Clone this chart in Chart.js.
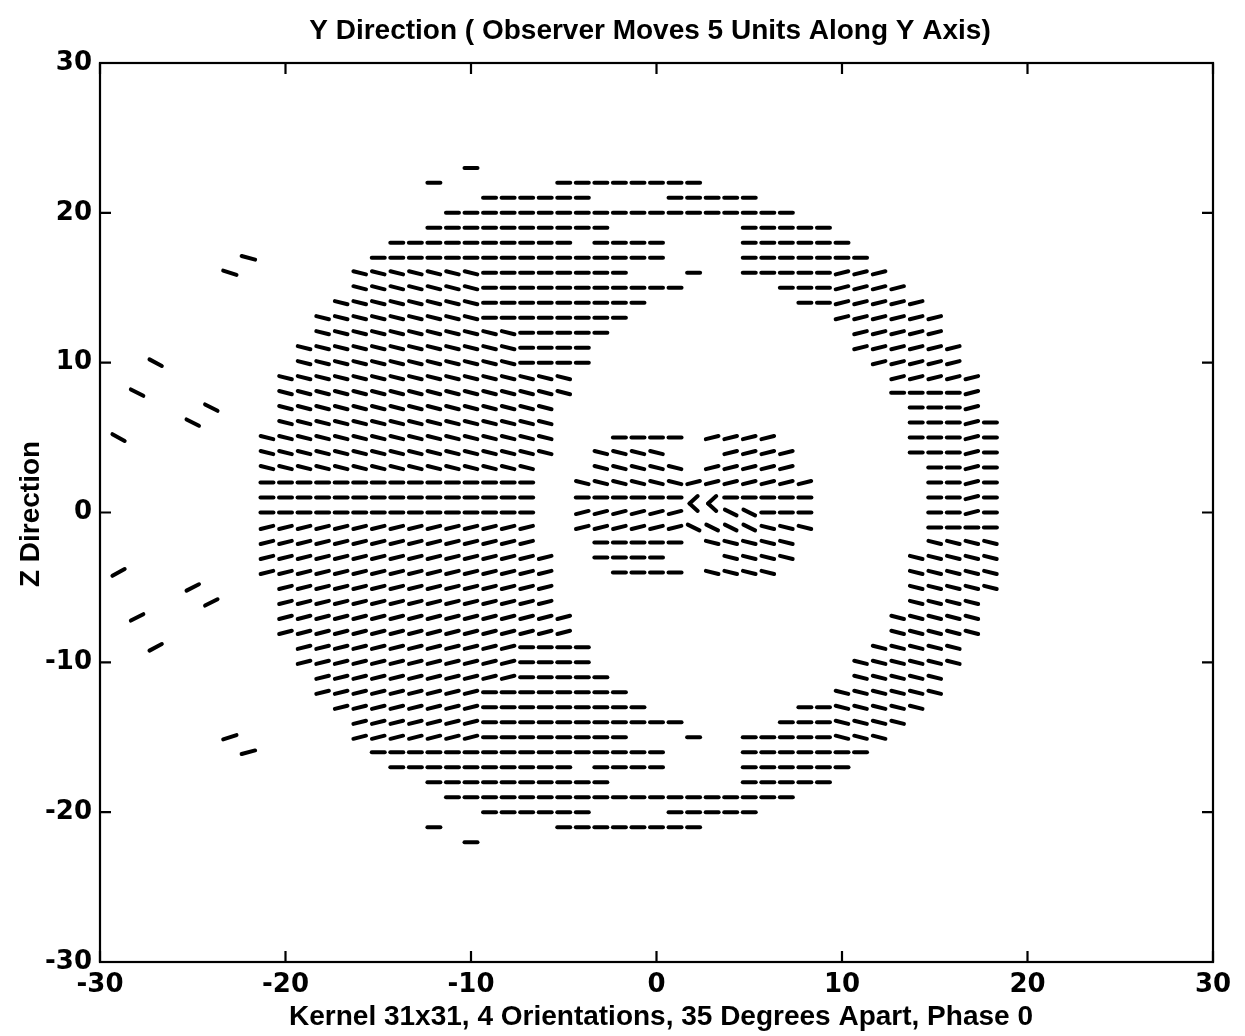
<!DOCTYPE html>
<html>
<head>
<meta charset="utf-8">
<script src="https://cdn.jsdelivr.net/npm/chart.js@4.4.1/dist/chart.umd.min.js"></script>
<style>
  html, body { margin: 0; padding: 0; background: #fff; }
  #wrap { width: 1245px; height: 1036px; }
</style>
</head>
<body>
<div id="wrap"><canvas id="chart" width="1245" height="1036"></canvas></div>
<script>
// texts
const titleText = 'Y Direction ( Observer Moves 5 Units Along Y Axis)';
const xLabel = 'Kernel 31x31, 4 Orientations, 35 Degrees Apart, Phase 0';
const yLabel = 'Z Direction';
const tickValues = [-30, -20, -10, 0, 10, 20, 30];

// rows of the orientation field: z of each row, then runs [x from, x to, tilt]
// tilt: '=' flat, 'd' falls to the right, 'u' rises to the right, 'D' steeper fall
const fieldZ = [23, 22, 21, 20, 19, 18, 17, 16, 15, 14, 13, 12, 11, 10, 9, 8, 7, 6, 5, 4, 3, 2, 1, 0,
  -1, -2, -3, -4, -5, -6, -7, -8, -9, -10, -11, -12, -13, -14, -15, -16, -17, -18, -19, -20, -21, -22];
const fieldRuns = [
  [[-10, -10, '=']],
  [[-12, -12, '='], [-5, 2, '=']],
  [[-9, -4, '='], [1, 5, '=']],
  [[-11, 7, '=']],
  [[-12, -3, '='], [5, 9, '=']],
  [[-14, -5, '='], [-3, 0, '='], [5, 10, '=']],
  [[-15, 0, '='], [5, 11, '=']],
  [[-16, -10, 'd'], [-9, -2, '='], [2, 2, '='], [5, 9, '='], [10, 12, 'u']],
  [[-16, -10, 'd'], [-9, 1, '='], [7, 9, '='], [10, 13, 'u']],
  [[-17, -10, 'd'], [-9, -1, '='], [8, 9, '='], [10, 14, 'u']],
  [[-18, -10, 'd'], [-9, -2, '='], [10, 15, 'u']],
  [[-18, -8, 'd'], [-7, -3, '='], [11, 15, 'u']],
  [[-19, -8, 'd'], [-7, -4, '='], [11, 16, 'u']],
  [[-19, -8, 'd'], [-7, -4, '='], [12, 16, 'u']],
  [[-20, -5, 'd'], [13, 17, 'u']],
  [[-20, -5, 'd'], [13, 16, '='], [17, 17, 'u']],
  [[-20, -6, 'd'], [14, 16, '='], [17, 17, 'u']],
  [[-20, -6, 'd'], [14, 16, '='], [17, 17, 'u'], [18, 18, '=']],
  [[-21, -6, 'd'], [-2, 1, '='], [3, 6, 'u'], [14, 16, '='], [17, 17, 'u'], [18, 18, '=']],
  [[-21, -6, 'd'], [-3, 0, 'd'], [4, 7, 'u'], [14, 16, '='], [17, 17, 'u'], [18, 18, '=']],
  [[-21, -7, 'd'], [-3, 1, 'd'], [3, 7, 'u'], [15, 16, '='], [17, 17, 'u'], [18, 18, '=']],
  [[-21, -7, '='], [-4, 1, 'd'], [2, 8, 'u'], [15, 16, '='], [17, 17, 'u'], [18, 18, '=']],
  [[-21, -7, '='], [-4, 1, '='], [4, 8, '='], [15, 16, '='], [17, 17, 'u'], [18, 18, '=']],
  [[-21, -7, '='], [-4, 1, 'u'], [4, 5, 'D'], [6, 8, '='], [15, 16, '='], [17, 17, 'u'], [18, 18, '=']],
  [[-21, -7, 'u'], [-4, 1, 'u'], [2, 5, 'D'], [6, 8, 'd'], [15, 18, '=']],
  [[-21, -7, 'u'], [-3, 1, '='], [3, 7, 'd'], [15, 18, 'd']],
  [[-21, -6, 'u'], [-3, 0, '='], [4, 7, 'd'], [14, 18, 'd']],
  [[-21, -6, 'u'], [-2, 1, '='], [3, 6, 'd'], [14, 18, 'd']],
  [[-20, -6, 'u'], [14, 18, 'd']],
  [[-20, -6, 'u'], [14, 17, 'd']],
  [[-20, -5, 'u'], [13, 17, 'd']],
  [[-20, -5, 'u'], [13, 17, 'd']],
  [[-19, -8, 'u'], [-7, -4, '='], [12, 16, 'd']],
  [[-19, -8, 'u'], [-7, -4, '='], [11, 16, 'd']],
  [[-18, -8, 'u'], [-7, -3, '='], [11, 15, 'd']],
  [[-18, -10, 'u'], [-9, -2, '='], [10, 15, 'd']],
  [[-17, -10, 'u'], [-9, -1, '='], [8, 9, '='], [10, 14, 'd']],
  [[-16, -10, 'u'], [-9, 1, '='], [7, 9, '='], [10, 13, 'd']],
  [[-16, -10, 'u'], [-9, -2, '='], [2, 2, '='], [5, 9, '='], [10, 12, 'd']],
  [[-15, 0, '='], [5, 11, '=']],
  [[-14, -5, '='], [-3, 0, '='], [5, 10, '=']],
  [[-12, -3, '='], [5, 9, '=']],
  [[-11, 7, '=']],
  [[-9, -4, '='], [1, 5, '=']],
  [[-12, -12, '='], [-5, 2, '=']],
  [[-10, -10, '=']]
];

// the lone dashes left of the ring
const outX = [-22, -23, -27, -28, -24, -25, -29, -29, -25, -24, -28, -27, -23, -22];
const outZ = [17, 16, 10, 8, 7, 6, 5, -4, -5, -6, -7, -9, -15, -16];
const outTilt = [15, 18, 28, 27, 27, 27, 29, -29, -27, -27, -27, -28, -18, -15];

// the two "<" marks in the middle of the inner blob (two strokes each)
const chevX = [2, 2, 3, 3];
const chevZ = [0.85, 0.35, 0.85, 0.35];
const chevTilt = [-42, 42, -42, 42];

const tiltDeg = { '=': 0, 'd': 14, 'u': -14, 'D': 26 };

const fieldPts = [];
fieldZ.forEach(function(z, i) {
  fieldRuns[i].forEach(function(run) {
    for (let x = run[0]; x <= run[1]; x++) {
      fieldPts.push({ x: x, y: z, r: tiltDeg[run[2]] });
    }
  });
});
const outPts = outX.map((x, i) => ({ x: x, y: outZ[i], r: outTilt[i] }));
const chevPts = chevX.map((x, i) => ({ x: x, y: chevZ[i], r: chevTilt[i] }));

const FONT = 'Liberation Sans, Arial, Helvetica, sans-serif';
const TICKFONT = 'DejaVu Sans, Liberation Sans, sans-serif';

function dashSet(data, rad) {
  return {
    data: data,
    showLine: false,
    pointStyle: 'line',
    pointRadius: rad,
    pointHoverRadius: rad,
    pointBorderWidth: 4,
    pointBorderColor: '#000',
    pointBackgroundColor: '#000',
    pointRotation: ctx => ctx.raw ? ctx.raw.r : 0
  };
}

// box, inward ticks on all four sides, and the titles (matlab look)
const frame = {
  id: 'frame',
  beforeDraw(chart) {
    const c = chart.ctx;
    c.save();
    c.fillStyle = '#fff';
    c.fillRect(0, 0, chart.width, chart.height);
    c.restore();
  },
  beforeDatasetsDraw(chart) {
    chart.ctx.save();
    chart.ctx.lineCap = 'round';
  },
  afterDatasetsDraw(chart) {
    chart.ctx.restore();
  },
  afterDraw(chart) {
    const c = chart.ctx;
    const a = chart.chartArea;
    const xs = chart.scales.x, ys = chart.scales.y;
    const tl = 11;
    c.save();
    c.strokeStyle = '#000';
    c.lineWidth = 2.2;
    c.strokeRect(a.left, a.top, a.right - a.left, a.bottom - a.top);
    c.beginPath();
    tickValues.forEach(function(v) {
      const px = xs.getPixelForValue(v);
      c.moveTo(px, a.bottom); c.lineTo(px, a.bottom - tl);
      c.moveTo(px, a.top); c.lineTo(px, a.top + tl);
      const py = ys.getPixelForValue(v);
      c.moveTo(a.left, py); c.lineTo(a.left + tl, py);
      c.moveTo(a.right, py); c.lineTo(a.right - tl, py);
    });
    c.stroke();

    c.fillStyle = '#000';
    c.font = 'bold 28px ' + FONT;
    c.textAlign = 'center';
    c.textBaseline = 'middle';
    c.fillText(titleText, 650, 31);
    c.fillText(xLabel, 661, 1017);
    c.translate(31, 514);
    c.rotate(-Math.PI / 2);
    c.fillText(yLabel, 0, 0);
    c.restore();
  }
};

new Chart(document.getElementById('chart'), {
  type: 'scatter',
  data: {
    datasets: [dashSet(fieldPts, 6.5), dashSet(outPts, 7), dashSet(chevPts, 5.5)]
  },
  options: {
    responsive: false,
    animation: false,
    events: [],
    layout: { padding: { left: 0, right: 32, top: 63, bottom: 0 } },
    plugins: { legend: { display: false }, tooltip: { enabled: false } },
    scales: {
      x: {
        type: 'linear', min: -30, max: 30,
        afterBuildTicks: s => { s.ticks = tickValues.map(v => ({ value: v })); },
        afterFit: s => { s.height = 74; },
        grid: { display: false, drawTicks: false },
        border: { display: false },
        ticks: { autoSkip: false, maxRotation: 0, padding: 8, color: '#000', font: { family: TICKFONT, size: 26, weight: 'bold' } }
      },
      y: {
        type: 'linear', min: -30, max: 30,
        afterBuildTicks: s => { s.ticks = tickValues.map(v => ({ value: v })); },
        afterFit: s => { s.width = 100; },
        grid: { display: false, drawTicks: false },
        border: { display: false },
        ticks: { autoSkip: false, padding: 8, color: '#000', font: { family: TICKFONT, size: 26, weight: 'bold' } }
      }
    }
  },
  plugins: [frame]
});
</script>
</body>
</html>
